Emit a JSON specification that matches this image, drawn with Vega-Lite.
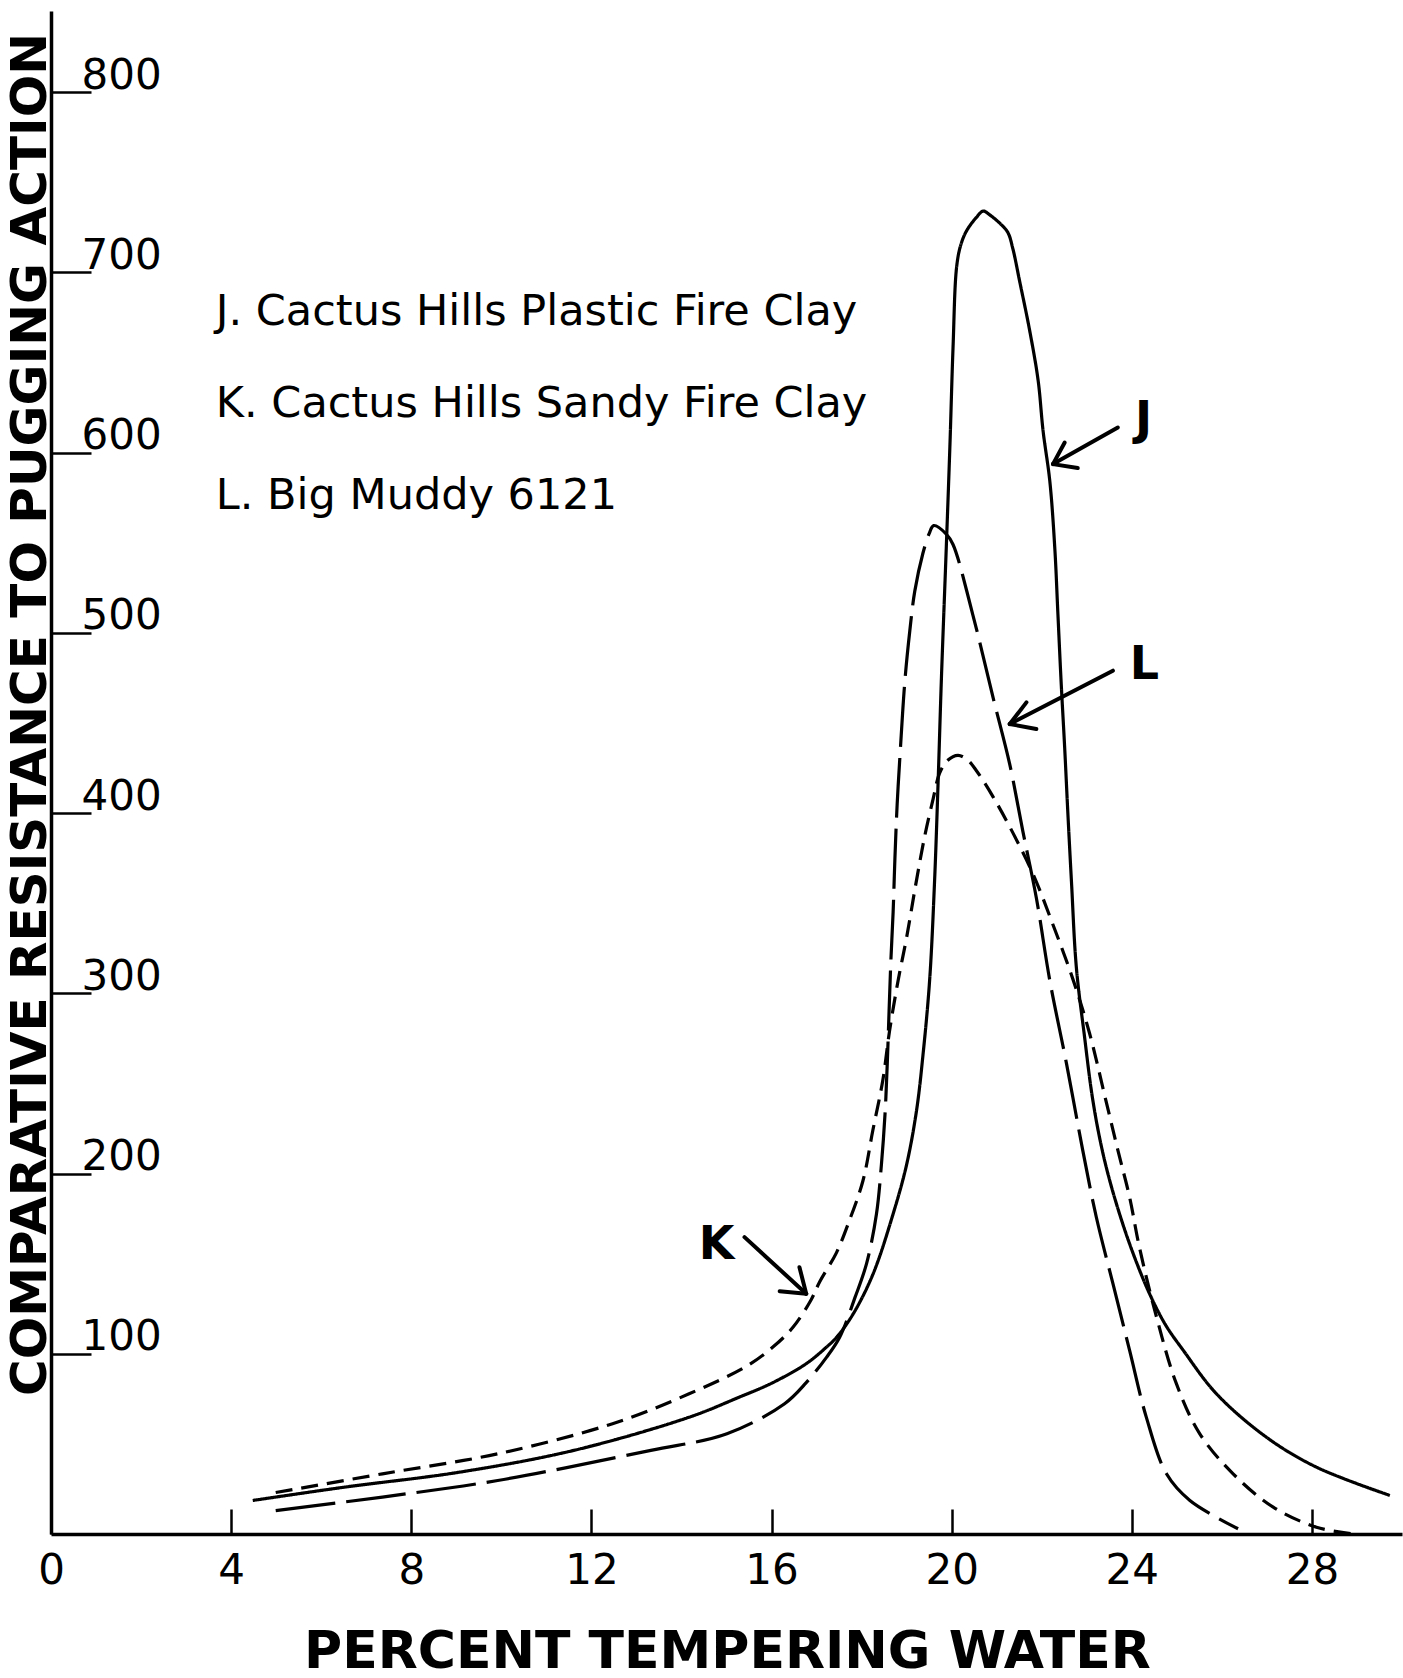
{
  "$schema": "https://vega.github.io/schema/vega-lite/v6.json",
  "width": 1351,
  "height": 1523,
  "autosize": "none",
  "padding": {"left": 51, "top": 11, "right": 1, "bottom": 144},
  "background": "white",
  "config": {"view": {"stroke": null}, "font": "DejaVu Sans"},
  "datasets": {
    "curves": [
      {"s":"J","i":0,"x":4.48,"y":18.6},{"s":"J","i":1,"x":6.52,"y":26},{"s":"J","i":2,"x":9.07,"y":34.3},{"s":"J","i":3,"x":11.61,"y":46.4},{"s":"J","i":4,"x":14.17,"y":64.8},{"s":"J","i":5,"x":15.29,"y":76},{"s":"J","i":6,"x":16.03,"y":84},{"s":"J","i":7,"x":16.77,"y":94.5},{"s":"J","i":8,"x":17.22,"y":103.7},{"s":"J","i":9,"x":17.44,"y":109},{"s":"J","i":10,"x":17.81,"y":122},{"s":"J","i":11,"x":18.25,"y":144},{"s":"J","i":12,"x":18.7,"y":177.6},{"s":"J","i":13,"x":19.0,"y":205},{"s":"J","i":14,"x":19.22,"y":235},{"s":"J","i":15,"x":19.36,"y":265},{"s":"J","i":16,"x":19.51,"y":307},{"s":"J","i":17,"x":19.62,"y":362},{"s":"J","i":18,"x":19.7,"y":418},{"s":"J","i":19,"x":19.77,"y":473},{"s":"J","i":20,"x":19.88,"y":547},{"s":"J","i":21,"x":19.96,"y":603},{"s":"J","i":22,"x":20.03,"y":658},{"s":"J","i":23,"x":20.11,"y":703},{"s":"J","i":24,"x":20.2,"y":715},{"s":"J","i":25,"x":20.33,"y":723},{"s":"J","i":26,"x":20.55,"y":730.5},{"s":"J","i":27,"x":20.7,"y":734},{"s":"J","i":28,"x":20.84,"y":732},{"s":"J","i":29,"x":21.1,"y":726.5},{"s":"J","i":30,"x":21.25,"y":722},{"s":"J","i":31,"x":21.36,"y":713},{"s":"J","i":32,"x":21.51,"y":695},{"s":"J","i":33,"x":21.73,"y":668},{"s":"J","i":34,"x":21.92,"y":640},{"s":"J","i":35,"x":22.03,"y":612},{"s":"J","i":36,"x":22.18,"y":584},{"s":"J","i":37,"x":22.29,"y":547},{"s":"J","i":38,"x":22.36,"y":510},{"s":"J","i":39,"x":22.43,"y":473},{"s":"J","i":40,"x":22.51,"y":436},{"s":"J","i":41,"x":22.58,"y":400},{"s":"J","i":42,"x":22.66,"y":362},{"s":"J","i":43,"x":22.77,"y":314},{"s":"J","i":44,"x":22.95,"y":276},{"s":"J","i":45,"x":23.12,"y":243},{"s":"J","i":46,"x":23.3,"y":218},{"s":"J","i":47,"x":23.5,"y":197},{"s":"J","i":48,"x":23.8,"y":172},{"s":"J","i":49,"x":24.1,"y":151},{"s":"J","i":50,"x":24.4,"y":133},{"s":"J","i":51,"x":24.75,"y":116},{"s":"J","i":52,"x":25.14,"y":102},{"s":"J","i":53,"x":25.88,"y":77.8},{"s":"J","i":54,"x":26.99,"y":53.7},{"s":"J","i":55,"x":28.1,"y":37.1},{"s":"J","i":56,"x":29.73,"y":21.4},
      {"s":"K","i":0,"x":4.99,"y":23},{"s":"K","i":1,"x":7.36,"y":33.4},{"s":"K","i":2,"x":9.92,"y":44.5},{"s":"K","i":3,"x":12.47,"y":61.2},{"s":"K","i":4,"x":14.17,"y":77.8},{"s":"K","i":5,"x":15.44,"y":93},{"s":"K","i":6,"x":16.03,"y":103.7},{"s":"K","i":7,"x":16.48,"y":114.8},{"s":"K","i":8,"x":16.88,"y":130},{"s":"K","i":9,"x":17.07,"y":140},{"s":"K","i":10,"x":17.44,"y":156},{"s":"K","i":11,"x":17.73,"y":174},{"s":"K","i":12,"x":18.03,"y":196},{"s":"K","i":13,"x":18.25,"y":224},{"s":"K","i":14,"x":18.47,"y":251.6},{"s":"K","i":15,"x":18.62,"y":279},{"s":"K","i":16,"x":18.81,"y":307},{"s":"K","i":17,"x":19.0,"y":331},{"s":"K","i":18,"x":19.2,"y":360},{"s":"K","i":19,"x":19.4,"y":387},{"s":"K","i":20,"x":19.59,"y":408},{"s":"K","i":21,"x":19.73,"y":422},{"s":"K","i":22,"x":19.9,"y":429},{"s":"K","i":23,"x":20.14,"y":432},{"s":"K","i":24,"x":20.35,"y":429.5},{"s":"K","i":25,"x":20.55,"y":423.5},{"s":"K","i":26,"x":20.92,"y":409},{"s":"K","i":27,"x":21.36,"y":389},{"s":"K","i":28,"x":21.81,"y":366},{"s":"K","i":29,"x":22.25,"y":338},{"s":"K","i":30,"x":22.69,"y":308},{"s":"K","i":31,"x":23.06,"y":278},{"s":"K","i":32,"x":23.42,"y":241},{"s":"K","i":33,"x":23.7,"y":212},{"s":"K","i":34,"x":23.95,"y":187},{"s":"K","i":35,"x":24.17,"y":159},{"s":"K","i":36,"x":24.55,"y":120.3},{"s":"K","i":37,"x":24.99,"y":83.4},{"s":"K","i":38,"x":25.51,"y":55.6},{"s":"K","i":39,"x":26.25,"y":33.4},{"s":"K","i":40,"x":27.14,"y":14.9},{"s":"K","i":41,"x":28.1,"y":3.8},{"s":"K","i":42,"x":28.91,"y":0},
      {"s":"L","i":0,"x":4.99,"y":13},{"s":"L","i":1,"x":7.36,"y":20.5},{"s":"L","i":2,"x":9.92,"y":29.7},{"s":"L","i":3,"x":13.32,"y":46.4},{"s":"L","i":4,"x":15.01,"y":55.6},{"s":"L","i":5,"x":16.29,"y":72.3},{"s":"L","i":6,"x":16.77,"y":84},{"s":"L","i":7,"x":17.22,"y":98},{"s":"L","i":8,"x":17.51,"y":109},{"s":"L","i":9,"x":17.85,"y":131},{"s":"L","i":10,"x":18.11,"y":150},{"s":"L","i":11,"x":18.33,"y":177.6},{"s":"L","i":12,"x":18.44,"y":205},{"s":"L","i":13,"x":18.52,"y":233},{"s":"L","i":14,"x":18.57,"y":261},{"s":"L","i":15,"x":18.61,"y":290},{"s":"L","i":16,"x":18.65,"y":318},{"s":"L","i":17,"x":18.7,"y":345},{"s":"L","i":18,"x":18.74,"y":375},{"s":"L","i":19,"x":18.79,"y":405},{"s":"L","i":20,"x":18.86,"y":435},{"s":"L","i":21,"x":18.96,"y":473},{"s":"L","i":22,"x":19.07,"y":501},{"s":"L","i":23,"x":19.18,"y":523},{"s":"L","i":24,"x":19.36,"y":544},{"s":"L","i":25,"x":19.5,"y":555},{"s":"L","i":26,"x":19.6,"y":559.5},{"s":"L","i":27,"x":19.88,"y":554.8},{"s":"L","i":28,"x":20.03,"y":549},{"s":"L","i":29,"x":20.47,"y":510},{"s":"L","i":30,"x":20.92,"y":464},{"s":"L","i":31,"x":21.29,"y":427},{"s":"L","i":32,"x":21.58,"y":390},{"s":"L","i":33,"x":21.88,"y":353},{"s":"L","i":34,"x":22.18,"y":307},{"s":"L","i":35,"x":22.55,"y":261},{"s":"L","i":36,"x":22.91,"y":213},{"s":"L","i":37,"x":23.21,"y":176},{"s":"L","i":38,"x":23.58,"y":139},{"s":"L","i":39,"x":23.95,"y":102},{"s":"L","i":40,"x":24.32,"y":65},{"s":"L","i":41,"x":24.77,"y":33.4},{"s":"L","i":42,"x":25.29,"y":18.6},{"s":"L","i":43,"x":26.36,"y":2.9}
    ],
    "notes": [
      {"label": "J. Cactus Hills Plastic Fire Clay", "x": 3.66, "y": 670.7},
      {"label": "K. Cactus Hills Sandy Fire Clay", "x": 3.66, "y": 619.9},
      {"label": "L. Big Muddy 6121", "x": 3.66, "y": 568.8}
    ],
    "letters": [
      {"label": "J", "x": 24.26, "y": 618.2},
      {"label": "L", "x": 24.28, "y": 482.2},
      {"label": "K", "x": 14.78, "y": 160.6}
    ],
    "arrows": [
      {"x": 23.69, "y": 613.9, "x2": 22.25, "y2": 593.6},
      {"x": 22.51, "y": 605.6, "x2": 22.25, "y2": 593.6},
      {"x": 22.8, "y": 591.4, "x2": 22.25, "y2": 593.6},
      {"x": 23.58, "y": 479.0, "x2": 21.29, "y2": 449.4},
      {"x": 21.66, "y": 461.4, "x2": 21.29, "y2": 449.4},
      {"x": 21.88, "y": 446.6, "x2": 21.29, "y2": 449.4},
      {"x": 15.4, "y": 164.7, "x2": 16.77, "y2": 133.3},
      {"x": 16.62, "y": 148.0, "x2": 16.77, "y2": 133.3},
      {"x": 16.18, "y": 134.7, "x2": 16.77, "y2": 133.3}
    ]
  },
  "encoding": {
    "x": {
      "field": "x", "type": "quantitative",
      "scale": {"domain": [0, 30], "nice": false, "zero": false},
      "axis": {
        "title": "PERCENT TEMPERING WATER",
        "values": [0, 4, 8, 12, 16, 20, 24, 28],
        "grid": false,
        "domainColor": "#000", "domainWidth": 3.5,
        "tickColor": "#000", "tickWidth": 2.5, "tickSize": -25,
        "labelFont": "DejaVu Sans", "labelFontSize": 42, "labelColor": "#000",
        "labelPadding": 41, "labelBaseline": "top", "labelFlush": false, "labelOverlap": false,
        "titleFont": "DejaVu Sans", "titleFontSize": 52, "titleFontWeight": "bold", "titleColor": "#000",
        "titleX": 676, "titleY": 133, "titleAlign": "center", "titleBaseline": "alphabetic"
      }
    },
    "y": {
      "field": "y", "type": "quantitative",
      "scale": {"domain": [0, 845], "nice": false, "zero": false},
      "axis": {
        "title": "COMPARATIVE RESISTANCE TO PUGGING ACTION",
        "values": [100, 200, 300, 400, 500, 600, 700, 800],
        "grid": false,
        "domainColor": "#000", "domainWidth": 3.5,
        "tickColor": "#000", "tickWidth": 2.5, "tickSize": -40,
        "labelFont": "DejaVu Sans", "labelFontSize": 42, "labelColor": "#000",
        "labelPadding": 10, "labelAlign": "left", "labelBaseline": "alphabetic", "labelOffset": -4,
        "labelOverlap": false, "labelFlush": false,
        "titleFont": "DejaVu Sans", "titleFontSize": 50, "titleFontWeight": "bold", "titleColor": "#000",
        "titleAngle": 270, "titleX": -6, "titleY": 703, "titleAlign": "center", "titleBaseline": "alphabetic"
      }
    }
  },
  "layer": [
    {
      "data": {"name": "curves"},
      "mark": {"type": "line", "interpolate": "catmull-rom", "strokeWidth": 3.2, "color": "#000", "strokeCap": "butt"},
      "encoding": {
        "order": {"field": "i", "type": "quantitative"},
        "strokeDash": {
          "field": "s", "type": "nominal",
          "scale": {"domain": ["J", "K", "L"], "range": [[1, 0], [17, 9], [60, 11]]},
          "legend": null
        }
      }
    },
    {
      "data": {"name": "arrows"},
      "mark": {"type": "rule", "strokeWidth": 4, "color": "#000", "strokeCap": "round"},
      "encoding": {
        "x2": {"field": "x2"},
        "y2": {"field": "y2"}
      }
    },
    {
      "data": {"name": "notes"},
      "mark": {"type": "text", "align": "left", "baseline": "alphabetic", "font": "DejaVu Sans", "fontSize": 43, "color": "#000"},
      "encoding": {"text": {"field": "label"}}
    },
    {
      "data": {"name": "letters"},
      "mark": {"type": "text", "align": "center", "baseline": "middle", "font": "DejaVu Sans", "fontSize": 46, "fontWeight": "bold", "color": "#000"},
      "encoding": {"text": {"field": "label"}}
    }
  ]
}
